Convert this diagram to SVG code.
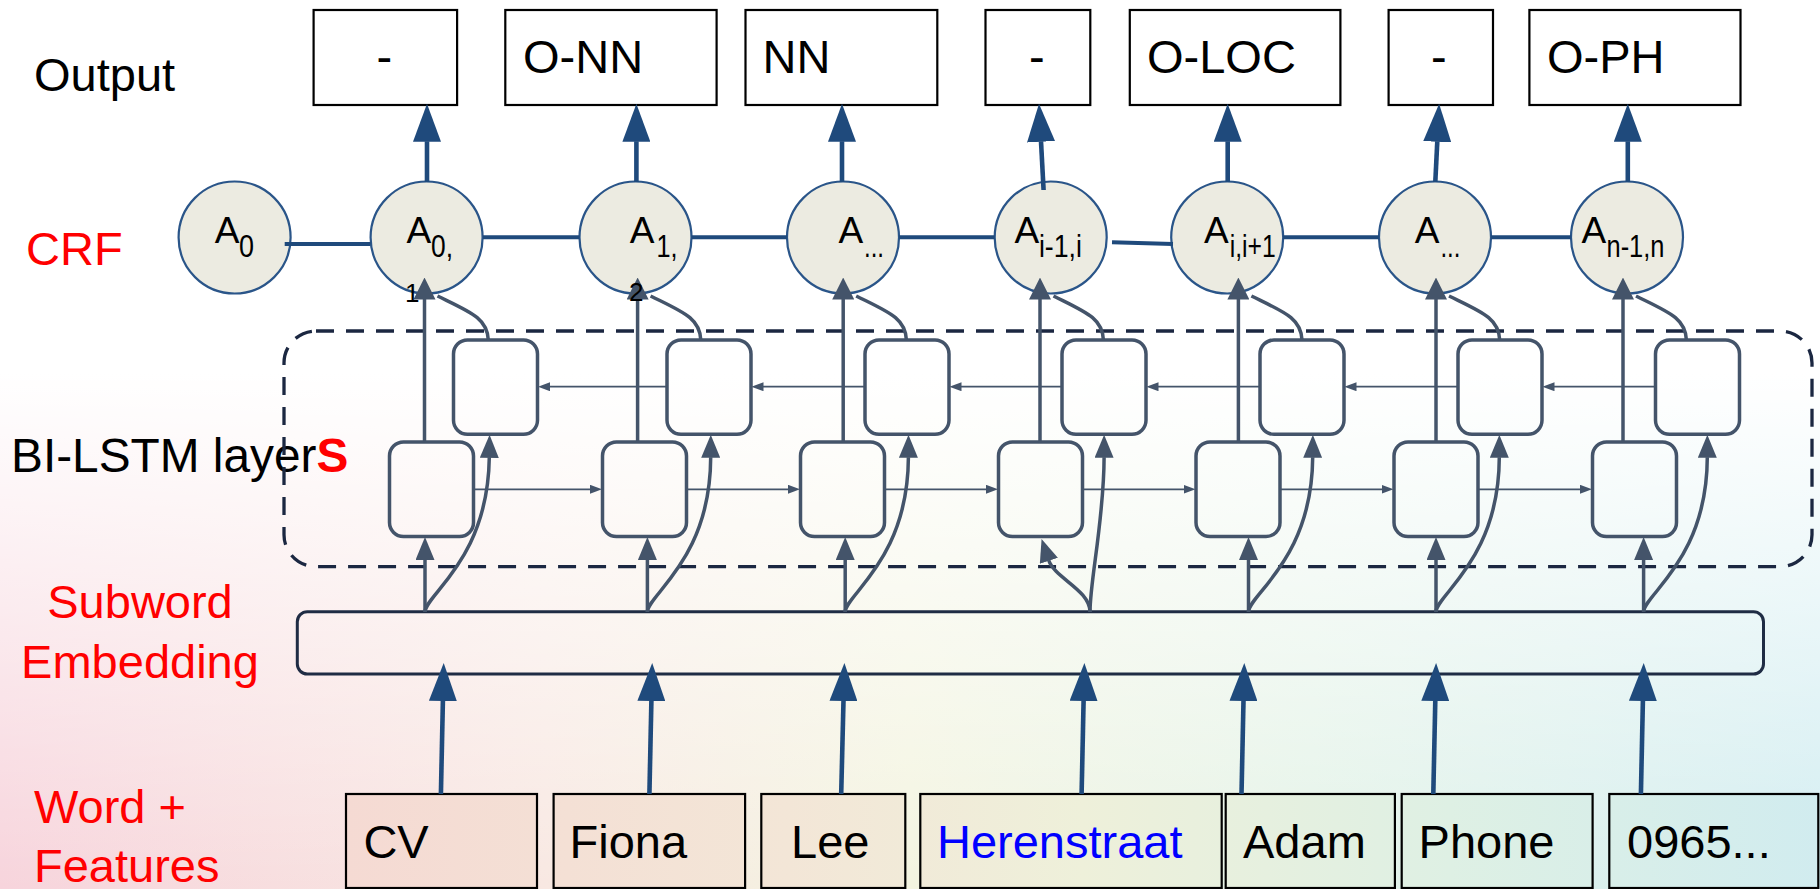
<svg xmlns="http://www.w3.org/2000/svg" width="1820" height="889" viewBox="0 0 1820 889">
  <defs>
    <linearGradient id="bgH" x1="0" y1="0" x2="1" y2="0">
      <stop offset="0" stop-color="#f7d4dc"/>
      <stop offset="0.3" stop-color="#f8e8e2"/>
      <stop offset="0.5" stop-color="#f3f4e0"/>
      <stop offset="0.72" stop-color="#e4f3e8"/>
      <stop offset="1" stop-color="#d2edf1"/>
    </linearGradient>
    <linearGradient id="bgV" x1="0" y1="0" x2="0" y2="1">
      <stop offset="0" stop-color="#ffffff" stop-opacity="1"/>
      <stop offset="0.42" stop-color="#ffffff" stop-opacity="1"/>
      <stop offset="1" stop-color="#ffffff" stop-opacity="0"/>
    </linearGradient>
    <linearGradient id="wordFill" gradientUnits="userSpaceOnUse" x1="346" y1="0" x2="1818" y2="0">
      <stop offset="0" stop-color="#f5dad3"/>
      <stop offset="0.3" stop-color="#f3e6d7"/>
      <stop offset="0.5" stop-color="#eef0da"/>
      <stop offset="0.75" stop-color="#def0e4"/>
      <stop offset="1" stop-color="#d1ecef"/>
    </linearGradient>
    <marker id="headBlue" viewBox="0 0 38 28" markerWidth="38" markerHeight="28" refX="0.5" refY="14" orient="auto" markerUnits="userSpaceOnUse">
      <path d="M0,0 L38,14 L0,28 Z" fill="#1f4a7c"/>
    </marker>
    <marker id="headSlate" viewBox="0 0 23 19" markerWidth="23" markerHeight="19" refX="0.5" refY="9.5" orient="auto" markerUnits="userSpaceOnUse">
      <path d="M0,0 L23,9.5 L0,19 Z" fill="#44546a"/>
    </marker>
    <marker id="headCrf" viewBox="0 0 22 22" markerWidth="22" markerHeight="22" refX="0.5" refY="11" orient="auto" markerUnits="userSpaceOnUse">
      <path d="M0,0 L22,11 L0,22 Z" fill="#44546a"/>
    </marker>
    <marker id="headThin" viewBox="0 0 12 9" markerWidth="12" markerHeight="9" refX="0.5" refY="4.5" orient="auto" markerUnits="userSpaceOnUse">
      <path d="M0,0 L12,4.5 L0,9 Z" fill="#44546a"/>
    </marker>
    <style>
      text { font-family: "Liberation Sans", Arial, sans-serif; }
      .lbl { font-size: 47px; fill: #000000; }
      .red { font-size: 47px; fill: #ff0000; }
      .out rect { fill: #ffffff; stroke: #000000; stroke-width: 2.2; }
      .word rect { fill: url(#wordFill); stroke: #000000; stroke-width: 2.2; }
      .crf circle { fill: #ecebe1; stroke: #2a5589; stroke-width: 2.2; }
      .crf .a { font-size: 37px; fill: #000000; }
      .crf .s { font-size: 31px; fill: #000000; }
      .wrap { font-size: 26px; fill: #000000; }
      .cell rect { fill: none; stroke: #44546a; stroke-width: 3.5; }
      .blue { fill: none; stroke: #1f4a7c; stroke-width: 4.6; }
      .crfline { fill: none; stroke: #1f4a7c; stroke-width: 4; }
      .slate { fill: none; stroke: #44546a; stroke-width: 3.5; }
      .thin { fill: none; stroke: #44546a; stroke-width: 1.8; }
    </style>
  </defs>

  <!-- soft background wash -->
  <rect x="0" y="0" width="1820" height="889" fill="url(#bgH)"/>
  <rect x="0" y="0" width="1820" height="889" fill="url(#bgV)"/>

  <!-- row labels -->
  <g id="labels">
    <text class="lbl" x="34" y="90.7">Output</text>
    <text class="red" x="26" y="265">CRF</text>
    <text class="lbl" x="11" y="471.7" style="font-size:47.8px">BI-LSTM layer<tspan font-weight="bold" fill="#ff0000">S</tspan></text>
    <text class="red" x="140" y="618" text-anchor="middle">Subword</text>
    <text class="red" x="140" y="678.3" text-anchor="middle">Embedding</text>
    <text class="red" x="34" y="823.3">Word +</text>
    <text class="red" x="34" y="881.7">Features</text>
  </g>

  <!-- output tags -->
  <g id="out1" class="out"><rect x="313.6" y="10" width="143.5" height="95"/><text class="lbl" x="376.5" y="73.3">-</text></g>
  <g id="out2" class="out"><rect x="505.3" y="10" width="211.3" height="95"/><text class="lbl" x="523" y="73.3">O-NN</text></g>
  <g id="out3" class="out"><rect x="745.5" y="10" width="191.8" height="95"/><text class="lbl" x="762.5" y="73.3">NN</text></g>
  <g id="out4" class="out"><rect x="985.5" y="10" width="104.8" height="95"/><text class="lbl" x="1029" y="73.3">-</text></g>
  <g id="out5" class="out"><rect x="1129.8" y="10" width="210.6" height="95"/><text class="lbl" x="1147" y="73.3">O-LOC</text></g>
  <g id="out6" class="out"><rect x="1388.6" y="10" width="104.4" height="95"/><text class="lbl" x="1431" y="73.3">-</text></g>
  <g id="out7" class="out"><rect x="1529.4" y="10" width="211.1" height="95"/><text class="lbl" x="1547" y="73.3">O-PH</text></g>

  <!-- CRF states -->
  <g id="crf0" class="crf"><circle cx="234.6" cy="237.5" r="56"/><text class="a" x="214.7" y="243.3">A</text><text class="s" x="239" y="256.7" textLength="15" lengthAdjust="spacingAndGlyphs">0</text></g>
  <g id="crf1" class="crf"><circle cx="426.6" cy="237.5" r="56"/><text class="a" x="406.5" y="243.3">A</text><text class="s" x="431" y="256.7" textLength="22" lengthAdjust="spacingAndGlyphs">0,</text></g>
  <g id="crf2" class="crf"><circle cx="635.5" cy="237.5" r="56"/><text class="a" x="629.7" y="243.3">A</text><text class="s" x="656.5" y="256.7" textLength="21" lengthAdjust="spacingAndGlyphs">1,</text></g>
  <g id="crf3" class="crf"><circle cx="843" cy="237.5" r="56"/><text class="a" x="838.4" y="243.3">A</text><text class="s" x="864" y="256.7" textLength="20" lengthAdjust="spacingAndGlyphs">...</text></g>
  <g id="crf4" class="crf"><circle cx="1050.7" cy="237.5" r="56"/><text class="a" x="1014.4" y="243.3">A</text><text class="s" x="1038.9" y="256.7" textLength="43" lengthAdjust="spacingAndGlyphs">i-1,i</text></g>
  <g id="crf5" class="crf"><circle cx="1227.2" cy="237.5" r="56"/><text class="a" x="1204" y="243.3">A</text><text class="s" x="1229.7" y="256.7" textLength="46" lengthAdjust="spacingAndGlyphs">i,i+1</text></g>
  <g id="crf6" class="crf"><circle cx="1435" cy="237.5" r="56"/><text class="a" x="1414.7" y="243.3">A</text><text class="s" x="1440.4" y="256.7" textLength="20" lengthAdjust="spacingAndGlyphs">...</text></g>
  <g id="crf7" class="crf"><circle cx="1627" cy="237.5" r="56"/><text class="a" x="1581.6" y="243.3">A</text><text class="s" x="1606.5" y="256.7" textLength="58" lengthAdjust="spacingAndGlyphs">n-1,n</text></g>

  <!-- dashed frame round the recurrent layers -->
  <g id="bilstm-frame">
    <rect x="284" y="331" width="1528" height="235.7" rx="32" ry="32" fill="none" stroke="#1b2741" stroke-width="3.3" stroke-dasharray="18 12"/>
  </g>

  <!-- backward cells (upper row) -->
  <g id="bwd1" class="cell"><rect x="453.5" y="340" width="84" height="94.3" rx="14"/></g>
  <g id="bwd2" class="cell"><rect x="667" y="340" width="84" height="94.3" rx="14"/></g>
  <g id="bwd3" class="cell"><rect x="865" y="340" width="84" height="94.3" rx="14"/></g>
  <g id="bwd4" class="cell"><rect x="1062" y="340" width="84" height="94.3" rx="14"/></g>
  <g id="bwd5" class="cell"><rect x="1260" y="340" width="84" height="94.3" rx="14"/></g>
  <g id="bwd6" class="cell"><rect x="1458" y="340" width="84" height="94.3" rx="14"/></g>
  <g id="bwd7" class="cell"><rect x="1655.5" y="340" width="84" height="94.3" rx="14"/></g>

  <!-- forward cells (lower row) -->
  <g id="fwd1" class="cell"><rect x="389.5" y="442" width="84" height="94.5" rx="14"/></g>
  <g id="fwd2" class="cell"><rect x="602.5" y="442" width="84" height="94.5" rx="14"/></g>
  <g id="fwd3" class="cell"><rect x="800.5" y="442" width="84" height="94.5" rx="14"/></g>
  <g id="fwd4" class="cell"><rect x="998.5" y="442" width="84" height="94.5" rx="14"/></g>
  <g id="fwd5" class="cell"><rect x="1196" y="442" width="84" height="94.5" rx="14"/></g>
  <g id="fwd6" class="cell"><rect x="1394" y="442" width="84" height="94.5" rx="14"/></g>
  <g id="fwd7" class="cell"><rect x="1592.5" y="442" width="84" height="94.5" rx="14"/></g>

  <!-- subword embedding bar -->
  <g id="embedding">
    <rect x="297.3" y="611.7" width="1466.2" height="62.3" rx="10" fill="none" stroke="#1f2c44" stroke-width="3"/>
  </g>

  <!-- input words -->
  <g id="w1" class="word"><rect x="346" y="794" width="191" height="94"/><text class="lbl" x="363.4" y="858.3">CV</text></g>
  <g id="w2" class="word"><rect x="553.6" y="794" width="191.5" height="94"/><text class="lbl" x="569.5" y="858.3">Fiona</text></g>
  <g id="w3" class="word"><rect x="761.3" y="794" width="144" height="94"/><text class="lbl" x="791" y="858.3">Lee</text></g>
  <g id="w4" class="word"><rect x="920.3" y="794" width="301.4" height="94"/><text class="lbl" x="937" y="858.3" style="fill:#0000ff">Herenstraat</text></g>
  <g id="w5" class="word"><rect x="1225.7" y="794" width="169.2" height="94"/><text class="lbl" x="1243" y="858.3">Adam</text></g>
  <g id="w6" class="word"><rect x="1401.7" y="794" width="190.9" height="94"/><text class="lbl" x="1418.6" y="858.3">Phone</text></g>
  <g id="w7" class="word"><rect x="1609.3" y="794" width="209" height="94"/><text class="lbl" x="1627" y="858.3">0965...</text></g>

  <g id="connectors">
    <!-- CRF chain -->
    <path class="crfline" d="M284.7,244 H370.5"/>
    <path class="crfline" d="M483,237.3 H579.5"/>
    <path class="crfline" d="M691.5,237.3 H787"/>
    <path class="crfline" d="M899,237.3 H994.7"/>
    <path class="crfline" d="M1112,242.3 L1173,244"/>
    <path class="crfline" d="M1283,237.3 H1379"/>
    <path class="crfline" d="M1491,237.3 H1571"/>

    <!-- CRF to output tags -->
    <path class="blue" marker-end="url(#headBlue)" d="M427,182 V141.3"/>
    <path class="blue" marker-end="url(#headBlue)" d="M636.4,182 V141.3"/>
    <path class="blue" marker-end="url(#headBlue)" d="M842,182 V141.3"/>
    <path class="blue" marker-end="url(#headBlue)" d="M1043.6,190 L1041,141.3"/>
    <path class="blue" marker-end="url(#headBlue)" d="M1227.7,182 V141.3"/>
    <path class="blue" marker-end="url(#headBlue)" d="M1435.3,182 L1437.3,141.3"/>
    <path class="blue" marker-end="url(#headBlue)" d="M1627.8,182 V141.3"/>

    <!-- words to embedding -->
    <path class="blue" stroke-width="5" marker-end="url(#headBlue)" d="M440.9,794 L442.9,700.5"/>
    <path class="blue" stroke-width="5" marker-end="url(#headBlue)" d="M649.4,794 L651.4,700.5"/>
    <path class="blue" stroke-width="5" marker-end="url(#headBlue)" d="M841.2,794 L843.5,700.5"/>
    <path class="blue" stroke-width="5" marker-end="url(#headBlue)" d="M1081.6,794 L1083.6,700.5"/>
    <path class="blue" stroke-width="5" marker-end="url(#headBlue)" d="M1241.5,794 L1243.5,700.5"/>
    <path class="blue" stroke-width="5" marker-end="url(#headBlue)" d="M1433.3,794 L1435.3,700.5"/>
    <path class="blue" stroke-width="5" marker-end="url(#headBlue)" d="M1640.9,794 L1642.9,700.5"/>

    <!-- embedding to forward cells -->
    <path class="slate" marker-end="url(#headSlate)" d="M425,612 V559.5"/>
    <path class="slate" marker-end="url(#headSlate)" d="M647.4,612 V559.5"/>
    <path class="slate" marker-end="url(#headSlate)" d="M845.2,612 V559.5"/>
    <path class="slate" marker-end="url(#headSlate)" d="M1090,612 C1090,590 1054.7,578.3 1048.7,560.3"/>
    <path class="slate" marker-end="url(#headSlate)" d="M1248.5,612 V559.5"/>
    <path class="slate" marker-end="url(#headSlate)" d="M1436,612 V559.5"/>
    <path class="slate" marker-end="url(#headSlate)" d="M1643.6,612 V559.5"/>

    <!-- embedding to backward cells -->
    <path class="slate" marker-end="url(#headSlate)" d="M425,612 C425,595 488,560 489.3,457.3"/>
    <path class="slate" marker-end="url(#headSlate)" d="M647.4,612 C647.4,595 710.4,560 710.7,457.3"/>
    <path class="slate" marker-end="url(#headSlate)" d="M845.2,612 C845.2,595 908,560 908.4,457.3"/>
    <path class="slate" marker-end="url(#headSlate)" d="M1090,612 C1090,580 1104,520 1104.1,457.3"/>
    <path class="slate" marker-end="url(#headSlate)" d="M1248.5,612 C1248.5,595 1312,560 1312.7,457.3"/>
    <path class="slate" marker-end="url(#headSlate)" d="M1436,612 C1436,595 1499,560 1499.3,457.3"/>
    <path class="slate" marker-end="url(#headSlate)" d="M1643.6,612 C1643.6,595 1707,560 1707.3,457.3"/>

    <!-- forward recurrence -->
    <path class="thin" marker-end="url(#headThin)" d="M473.5,489.3 H590.5"/>
    <path class="thin" marker-end="url(#headThin)" d="M686.5,489.3 H788.5"/>
    <path class="thin" marker-end="url(#headThin)" d="M884.5,489.3 H986.5"/>
    <path class="thin" marker-end="url(#headThin)" d="M1082.5,489.3 H1184"/>
    <path class="thin" marker-end="url(#headThin)" d="M1280,489.3 H1382"/>
    <path class="thin" marker-end="url(#headThin)" d="M1478,489.3 H1580.5"/>

    <!-- backward recurrence -->
    <path class="thin" marker-end="url(#headThin)" d="M667,386.7 H549.5"/>
    <path class="thin" marker-end="url(#headThin)" d="M865,386.7 H763"/>
    <path class="thin" marker-end="url(#headThin)" d="M1062,386.7 H961"/>
    <path class="thin" marker-end="url(#headThin)" d="M1260,386.7 H1158"/>
    <path class="thin" marker-end="url(#headThin)" d="M1458,386.7 H1356"/>
    <path class="thin" marker-end="url(#headThin)" d="M1655.5,386.7 H1554"/>

    <!-- backward cells to CRF -->
    <path class="slate" d="M488.3,340 C487.5,318 470.3,312 437.5,296"/>
    <path class="slate" d="M700.8,340 C700,318 682.8,312 650.6,296"/>
    <path class="slate" d="M906.4,340 C905.6,318 888.4,312 856.2,296"/>
    <path class="slate" d="M1103.4,340 C1102.6,318 1085.4,312 1053.5,296"/>
    <path class="slate" d="M1302,340 C1301.2,318 1284,312 1251.4,296"/>
    <path class="slate" d="M1499.7,340 C1498.9,318 1481.7,312 1449,296"/>
    <path class="slate" d="M1686.4,340 C1685.6,318 1668.4,312 1636,296"/>

    <!-- forward cells to CRF -->
    <path class="slate" marker-end="url(#headCrf)" d="M424.5,442 V299"/>
    <path class="slate" marker-end="url(#headCrf)" d="M637.6,442 V299"/>
    <path class="slate" marker-end="url(#headCrf)" d="M843.2,442 V299"/>
    <path class="slate" marker-end="url(#headCrf)" d="M1040,442 V299"/>
    <path class="slate" marker-end="url(#headCrf)" d="M1238.4,442 V299"/>
    <path class="slate" marker-end="url(#headCrf)" d="M1436,442 V299"/>
    <path class="slate" marker-end="url(#headCrf)" d="M1623,442 V299"/>
  </g>

  <!-- subscript digits that spill below their states, drawn above the arrows -->
  <g id="crf1-overflow"><text class="wrap" x="405" y="302">1</text></g>
  <g id="crf2-overflow"><text class="wrap" x="629" y="301">2</text></g>
</svg>
